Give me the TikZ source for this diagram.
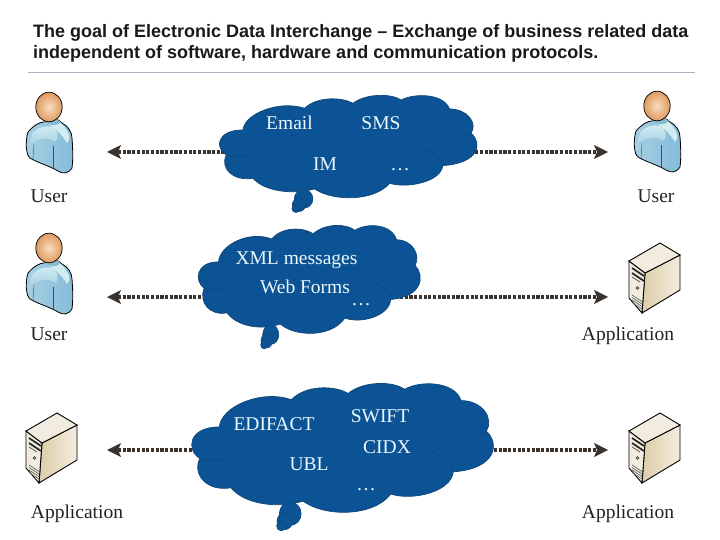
\documentclass[tikz,border=0pt]{standalone}
\usepackage{fontspec}
\setmainfont{Liberation Serif}
\newfontfamily\titlefont{Liberation Sans}
\definecolor{cloudblue}{HTML}{0B5394}
\definecolor{cloudedge}{HTML}{0F4678}
\definecolor{linkdark}{HTML}{3A322C}
\definecolor{rulegray}{HTML}{A9B5C0}
\definecolor{inktext}{HTML}{222222}
\definecolor{skinlight}{HTML}{F9DDBE}
\definecolor{skindark}{HTML}{DE9A60}
\definecolor{boxface}{HTML}{F1ECDF}
\definecolor{boxshade}{HTML}{DCCDA8}
\definecolor{boxlight}{HTML}{F3EDDF}
\definecolor{shirtmid}{HTML}{A6D0E3}
\definecolor{shirtside}{HTML}{86BBD9}
\definecolor{shirtpale}{HTML}{D2ECF2}
\definecolor{shirtneck}{HTML}{86BBD0}
\tikzset{
  titletext/.style={anchor=base west,inner sep=0pt,font=\titlefont\bfseries\fontsize{18}{20}\selectfont,text=black!90},
  captext/.style={anchor=base,inner sep=0pt,font=\fontsize{19.5}{22}\selectfont,text=inktext},
  cloudtext/.style={anchor=base,inner sep=0pt,font=\fontsize{19.5}{22}\selectfont,text=white!92!cyan},
  link/.style={draw=linkdark,line width=3.4pt,dash pattern=on 3.2pt off 1.5pt,shorten <=11pt,shorten >=11pt},
  linktip/.style={fill=linkdark,draw=none},
  cloudshape/.pic={
    \path[fill=cloudblue,draw=cloudedge,line width=.7pt]
      (130,135) .. controls (135,85) and (240,45) .. (315,70)
      .. controls (350,35) and (425,35) .. (460,55)
      .. controls (500,25) and (575,25) .. (605,45)
      .. controls (650,22) and (735,28) .. (750,72)
      .. controls (805,72) and (835,115) .. (815,145)
      .. controls (850,175) and (840,235) .. (730,242)
      .. controls (725,290) and (625,312) .. (570,295)
      .. controls (525,350) and (400,350) .. (345,312)
      .. controls (280,330) and (195,320) .. (160,280)
      .. controls (100,290) and (60,250) .. (80,210)
      .. controls (45,190) and (50,135) .. (130,135) -- cycle;
    \draw[cloudedge,line width=.6pt] (80,210) .. controls (100,216) and (125,216) .. (145,214);
    \draw[cloudedge,line width=.6pt] (660,190) .. controls (695,197) and (720,215) .. (730,242);
    \draw[cloudedge,line width=.6pt] (815,145) -- (795,156);
    \path[fill=cloudblue,draw=cloudedge,line width=.6pt] (312,342) circle[radius=28];
    \path[fill=cloudblue,draw=cloudedge,line width=.6pt] (298,360) circle[radius=20];
    \path[fill=cloudblue,draw=cloudedge,line width=.6pt] (289,371) circle[radius=12];
  },
  usericon/.pic={
    \shade[left color=shirtmid,right color=shirtside,draw=black,line width=.8pt]
      (2,24) .. controls (8,17) and (14,14) .. (18,14)
      .. controls (26,10) and (32,10) .. (36,15)
      .. controls (42,18) and (46,24) .. (46,30)
      .. controls (47,43) and (47,52) .. (46,60)
      .. controls (42,66) and (37,66) .. (32,63)
      .. controls (24,58) and (12,55) .. (4,50)
      .. controls (0,47) and (-1,34) .. (2,24) -- cycle;
    \shade[top color=shirtpale,bottom color=shirtmid,draw=none]
      (6,26) .. controls (12,19) and (20,17) .. (26,19)
      .. controls (32,22) and (33,28) .. (30,34)
      .. controls (20,28) and (12,30) .. (3,38) -- cycle;
    \path[fill=shirtpale] (20,14) .. controls (28,20) and (36,26) .. (41,35)
      .. controls (45,32) and (44,24) .. (35,15) -- cycle;
    \path[fill=shirtneck] (18,13) .. controls (24,19) and (31,18) .. (35,14) -- (30,11) -- (22,11) -- cycle;
    \draw[black!65,line width=.5pt] (8,36) -- (7,51);
    \draw[black!70,line width=.7pt] (27,38) -- (27,60);
    \shade[inner color=skinlight,outer color=skindark,draw=black,line width=.7pt]
      (23,-1) circle[x radius=13.2,y radius=14.8];
  },
  servericon/.pic={
    \shade[left color=boxshade,right color=boxlight,draw=black,line width=.9pt]
      (45,43) -- (80,25) -- (80,60) -- (42,83) -- cycle;
    \path[fill=boxface,draw=black,line width=.9pt] (29,31) -- (45,43) -- (42,83) -- (29,68) -- cycle;
    \path[fill=boxface,draw=black,line width=.9pt] (29,31) -- (60,13) -- (80,25) -- (45,43) -- cycle;
    \draw[black!85,line width=1.7pt] (32,38) -- (44,46);
    \draw[black!85,line width=1.7pt] (32,43) -- (44,51);
    \draw[black!60,line width=.9pt] (32,47) -- (40,52);
    \path[fill=black!75] (37.5,58) circle[radius=1.9];
    \path[fill=skinlight] (37.5,58) circle[radius=.6];
    \foreach \d in {0,2.5,5,7.5}{
      \draw[black!60,line width=.7pt] (32,65+\d) -- (42,71.5+\d);
    }
  }
}
\begin{document}
\begin{tikzpicture}[x=1pt,y=-1pt]
\useasboundingbox (0,0) rectangle (720,540);
\node[titletext] (title1) at (33,38) {The goal of Electronic Data Interchange – Exchange of business related data};
\node[titletext] (title2) at (33,59) {independent of software, hardware and communication protocols.};
\coordinate (ruleL) at (28,72);
\coordinate (ruleR) at (695,72);
\draw[rulegray,line width=.9pt] (ruleL) -- (ruleR);

% link ends
\coordinate (a1) at (107,152); \coordinate (b1) at (608,152);
\coordinate (a2) at (107,297); \coordinate (b2) at (608,297);
\coordinate (a3) at (107,450); \coordinate (b3) at (608,450);
\foreach \p/\q in {a1/b1,a2/b2,a3/b3}{
  \draw[link] (\p) -- (\q);
  \path[linktip] (\p) -- ++(14,-7) -- ++(-3,7) -- ++(3,7) -- cycle;
  \path[linktip] (\q) -- ++(-14,-7) -- ++(3,7) -- ++(-3,7) -- cycle;
}

% clouds
\pic[shift={(199.7,85)},xscale=.333,yscale=.333] at (0,0) {cloudshape};
\pic[shift={(181.2,214.5)},xscale=.287,yscale=.351] at (0,0) {cloudshape};
\pic[shift={(168.55,370.4)},xscale=.39,yscale=.419] at (0,0) {cloudshape};

% icons
\pic[shift={(26,108)}] at (0,0) {usericon};
\pic[shift={(634,107)}] at (0,0) {usericon};
\pic[shift={(26,249)}] at (0,0) {usericon};
\pic[shift={(600,230)}] at (0,0) {servericon};
\pic[shift={(600,400)}] at (0,0) {servericon};
\pic[shift={(-3,400)}] at (0,0) {servericon};

% captions
\node[captext] (cap1) at (49,203) {User};
\node[captext] (cap2) at (656,203) {User};
\node[captext] (cap3) at (49,340) {User};
\node[captext] (cap4) at (628,340) {Application};
\node[captext] (cap5) at (77,518) {Application};
\node[captext] (cap6) at (628,518) {Application};

% cloud texts
\node[cloudtext] (t11) at (289.5,130) {Email};
\node[cloudtext] (t12) at (381,130) {SMS};
\node[cloudtext] (t13) at (325,171) {IM};
\node[cloudtext] (t14) at (400,171) {…};
\node[cloudtext] (t21) at (296.5,264) {XML messages};
\node[cloudtext] (t22) at (305,293) {Web Forms};
\node[cloudtext] (t23) at (361,305) {…};
\node[cloudtext] (t31) at (274,430) {EDIFACT};
\node[cloudtext] (t32) at (380,422) {SWIFT};
\node[cloudtext] (t33) at (309,470) {UBL};
\node[cloudtext] (t34) at (387,453) {CIDX};
\node[cloudtext] (t35) at (366,490) {…};
\end{tikzpicture}
\end{document}
